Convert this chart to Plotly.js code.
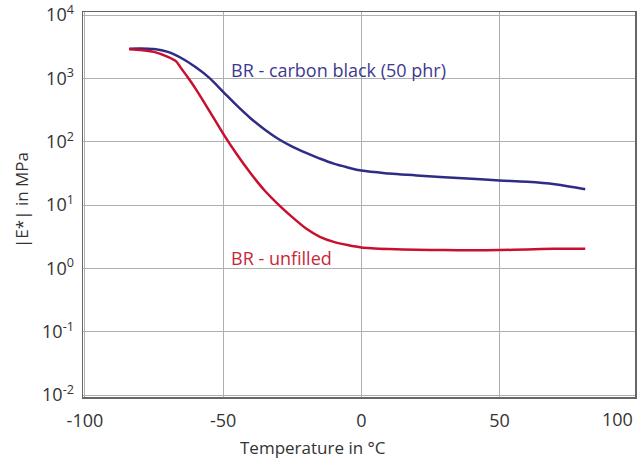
<!DOCTYPE html>
<html>
<head>
<meta charset="utf-8">
<script src="https://cdn.plot.ly/plotly-3.0.1.min.js"></script>
<style>html,body{margin:0;padding:0;background:#fff;}#chart{width:641px;height:460px;}</style>
</head>
<body>
<div id="chart"></div>
<script>
// Temperature (°C) and |E*| (MPa)
const tempCarbonBlack = [-84, -80, -75, -70, -65, -60, -55, -50, -45, -40, -35, -30, -25, -20, -15, -10, -5, 0, 10, 20, 30, 40, 50, 60, 70, 81];
const modCarbonBlack  = [2951, 2985, 2917, 2630, 2089, 1514, 1023, 617, 372, 234, 157, 111, 84.1, 66.8, 54.3, 45.2, 39.4, 35.1, 31.6, 29.5, 27.5, 26.0, 24.5, 23.4, 21.4, 17.8];

const tempUnfilled = [-84, -80, -75, -70, -67, -65, -63, -60, -55, -50, -45, -40, -35, -30, -25, -20, -15, -10, -5, 0, 10, 20, 30, 40, 50, 60, 70, 81];
const modUnfilled  = [2884, 2818, 2630, 2188, 1862, 1413, 1072, 692, 309, 135, 63, 31.6, 17, 10.2, 6.46, 4.27, 3.16, 2.63, 2.34, 2.14, 2.02, 1.97, 1.95, 1.93, 1.95, 2.0, 2.04, 2.04];

const xTickVals = [-100, -50, 0, 50];
const xTickText = ['-100', '-50', '0', '50'];
const yTickVals = [0.01, 0.1, 1, 10, 100, 1000, 10000];
const yTickText = ['10<sup>-2</sup>', '10<sup>-1</sup>', '10<sup>0</sup>', '10<sup>1</sup>', '10<sup>2</sup>', '10<sup>3</sup>', '10<sup>4</sup>'];

const seriesNames = ['BR - carbon black (50 phr)', 'BR - unfilled'];
const blue = '#2f2c85';
const red = '#c8102e';
const font = '"Open Sans", "Noto Sans", sans-serif';

const traces = [
  {x: tempCarbonBlack, y: modCarbonBlack, type: 'scatter', mode: 'lines', name: seriesNames[0],
   line: {color: blue, width: 2.5, shape: 'spline', smoothing: 1}},
  {x: tempUnfilled, y: modUnfilled, type: 'scatter', mode: 'lines', name: seriesNames[1],
   line: {color: red, width: 2.5, shape: 'spline', smoothing: 0.5}}
];

const layout = {
  width: 641, height: 460,
  margin: {l: 83, r: 6, t: 12, b: 63},
  paper_bgcolor: '#fff', plot_bgcolor: '#fff',
  showlegend: false,
  font: {family: font, size: 17, color: '#333'},
  xaxis: {
    range: [-100.7, 99], tickvals: xTickVals, ticktext: xTickText,
    showgrid: true, gridcolor: '#b0b0b0', gridwidth: 1,
    showline: true, linecolor: '#666', linewidth: 1.5, mirror: true,
    ticks: '', ticklabelstandoff: 7, zeroline: false,
    tickfont: {family: font, size: 18, color: '#333'}
  },
  yaxis: {
    type: 'log', range: [-2.03, 4.05], tickvals: yTickVals, ticktext: yTickText,
    showgrid: true, gridcolor: '#b0b0b0', gridwidth: 1,
    showline: true, linecolor: '#666', linewidth: 1.5, mirror: true,
    ticks: '', ticklabelstandoff: 4, zeroline: false,
    tickfont: {family: font, size: 18, color: '#333'}
  },
  annotations: [
    {xref: 'paper', yref: 'paper', x: 1, y: 0, xanchor: 'right', yanchor: 'top', yshift: -8,
     text: '100', showarrow: false, font: {family: font, size: 18, color: '#333'}},
    {x: -48, y: 3.13, xanchor: 'left', yanchor: 'middle', text: seriesNames[0], showarrow: false,
     font: {family: font, size: 18, color: '#3d3a8e'}},
    {x: -48, y: 0.16, xanchor: 'left', yanchor: 'middle', text: seriesNames[1], showarrow: false,
     font: {family: font, size: 18, color: '#c8283a'}},
    {xref: 'paper', yref: 'paper', x: (313 - 83) / 552, y: -(447 - 397) / 385, xanchor: 'center', yanchor: 'middle',
     text: 'Temperature in °C', showarrow: false, font: {family: font, size: 17, color: '#333'}},
    {xref: 'paper', yref: 'paper', x: -(83 - 21) / 552, y: (397 - 200) / 385, xanchor: 'center', yanchor: 'middle',
     text: '|E*| in MPa', textangle: -90, showarrow: false, font: {family: font, size: 17, color: '#333'}}
  ]
};

Plotly.newPlot('chart', traces, layout, {displayModeBar: false, staticPlot: true});
</script>
</body>
</html>
